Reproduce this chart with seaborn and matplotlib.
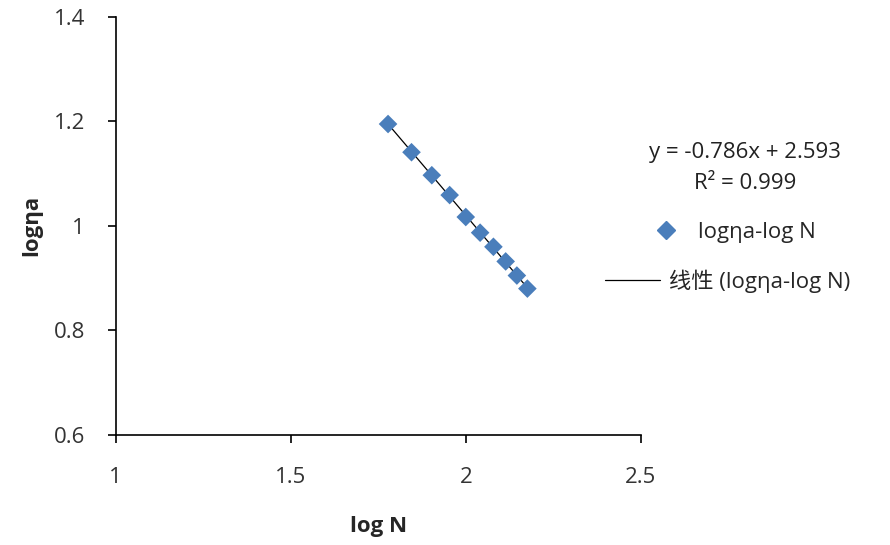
import matplotlib
matplotlib.use("Agg")
import matplotlib.pyplot as plt
import seaborn as sns
import pandas as pd
from matplotlib.lines import Line2D

# datos
log_n = [1.778, 1.845, 1.903, 1.954, 2.000, 2.041, 2.079, 2.114, 2.146, 2.176]
log_eta = [1.195, 1.141, 1.097, 1.059, 1.017, 0.987, 0.960, 0.932, 0.905, 0.880]
x_ticks = [1, 1.5, 2, 2.5]
y_ticks = [0.6, 0.8, 1.0, 1.2, 1.4]
y_tick_labels = ["0.6", "0.8", "1", "1.2", "1.4"]
x_tick_labels = ["1", "1.5", "2", "2.5"]
ecuacion = "y = -0.786x + 2.593"
r2 = "R² = 0.999"

df = pd.DataFrame({"log N": log_n, "logηa": log_eta})

sns.set_style("white")
plt.rcParams["font.family"] = ["Open Sans", "Noto Sans CJK SC", "DejaVu Sans"]

azul = "#4A7EBB"
fs = 16

fig = plt.figure(figsize=(8.9, 5.45), dpi=100)
ax = fig.add_axes([0.130, 0.202, 0.590, 0.767])

sns.regplot(data=df, x="log N", y="logηa", scatter=False, ci=None,
            color="black", line_kws={"linewidth": 0.9}, ax=ax)
sns.scatterplot(data=df, x="log N", y="logηa", marker="D", s=90,
                color=azul, edgecolor="none", ax=ax, zorder=3)

ax.set_xlim(1, 2.5)
ax.set_ylim(0.6, 1.4)
ax.set_xticks(x_ticks)
ax.set_xticklabels(x_tick_labels)
ax.set_yticks(y_ticks)
ax.set_yticklabels(y_tick_labels)
ax.tick_params(axis="both", direction="out", length=6, width=1.2,
               labelsize=fs, colors="black", labelcolor="#333333",
               bottom=True, left=True)
ax.tick_params(axis="x", pad=17)
ax.tick_params(axis="y", pad=16)

for s in ["top", "right"]:
    ax.spines[s].set_visible(False)
for s in ["left", "bottom"]:
    ax.spines[s].set_color("black")
    ax.spines[s].set_linewidth(1.2)

ax.set_xlabel("log N", fontsize=fs, fontweight="bold", labelpad=20)
ax.set_ylabel("logηa", fontsize=fs, fontweight="bold", labelpad=8)

# ecuación de la recta
fig.text(0.837, 0.721, ecuacion, ha="center", va="center", fontsize=fs, color="#222222")
fig.text(0.837, 0.664, r2, ha="center", va="center", fontsize=fs, color="#222222")

# leyendas
h1 = Line2D([], [], marker="D", linestyle="none", color=azul, markersize=9.5)
h2 = Line2D([], [], color="black", linewidth=0.9)
leg1 = fig.legend([h1], ["logηa-log N"], loc="center left",
                  bbox_to_anchor=(0.712, 0.574), frameon=False, fontsize=fs,
                  handlelength=1.1, handletextpad=0.9)
leg2 = fig.legend([h2], ["线性 (logηa-log N)"], loc="center left",
                  bbox_to_anchor=(0.657, 0.484), frameon=False, fontsize=fs,
                  handlelength=2.5, handletextpad=0.4)

fig.savefig("out.png", dpi=100)
